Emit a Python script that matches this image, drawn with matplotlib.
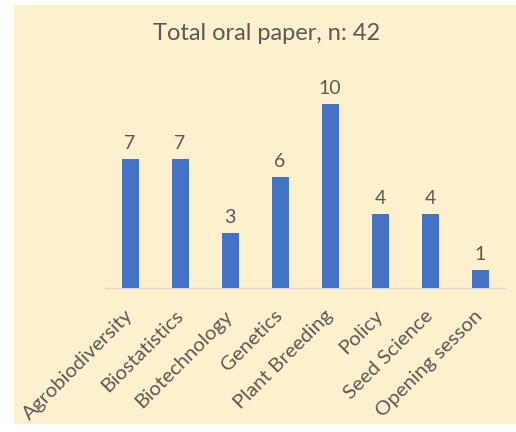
import matplotlib
matplotlib.use("Agg")
import matplotlib.pyplot as plt
from matplotlib.patches import Rectangle

categories = ["Agrobiodiversity", "Biostatistics", "Biotechnology", "Genetics",
              "Plant Breeding", "Policy", "Seed Science", "Opening sesson"]
values = [7, 7, 3, 6, 10, 4, 4, 1]
title = "Total oral paper, n: 42"

plt.rcParams['font.family'] = ['Lato', 'DejaVu Sans']
txt = "#595959"
bg = "#FEF0CD"

fig = plt.figure(figsize=(5.16, 4.32), dpi=100)
fig.patch.set_facecolor("white")
fig.add_artist(Rectangle((14/516, 8/432), (516-14)/516, (427-8)/432,
                         transform=fig.transFigure, facecolor=bg, edgecolor="none", zorder=-10))

ax = fig.add_axes([105/516, 1-288/432, 400/516, (288-66.6)/432])
ax.set_facecolor("none")
x = list(range(len(categories)))
ax.bar(x, values, width=0.34, color="#4472C4", zorder=3)
ax.set_xlim(-0.5, len(categories)-0.5)
ax.set_ylim(0, 12)
ax.set_yticks([])
for s in ["top", "right", "left"]:
    ax.spines[s].set_visible(False)
ax.spines["bottom"].set_color("#D9D9D9")
ax.spines["bottom"].set_linewidth(1)
ax.tick_params(axis="x", length=0, pad=18)
ax.set_xticks(x)
ax.set_xticklabels(categories, rotation=45, ha="right", va="center",
                   rotation_mode="anchor", fontsize=14.7, color=txt)
for xi, v in zip(x, values):
    ax.annotate(str(v), (xi, v), xytext=(0, 5), textcoords="offset points",
                ha="center", va="bottom", fontsize=14, color=txt)
fig.text(0.517, 1-34/432, title, ha="center", va="center", fontsize=17, color=txt)

fig.savefig("out.png", dpi=100, facecolor=fig.get_facecolor())
